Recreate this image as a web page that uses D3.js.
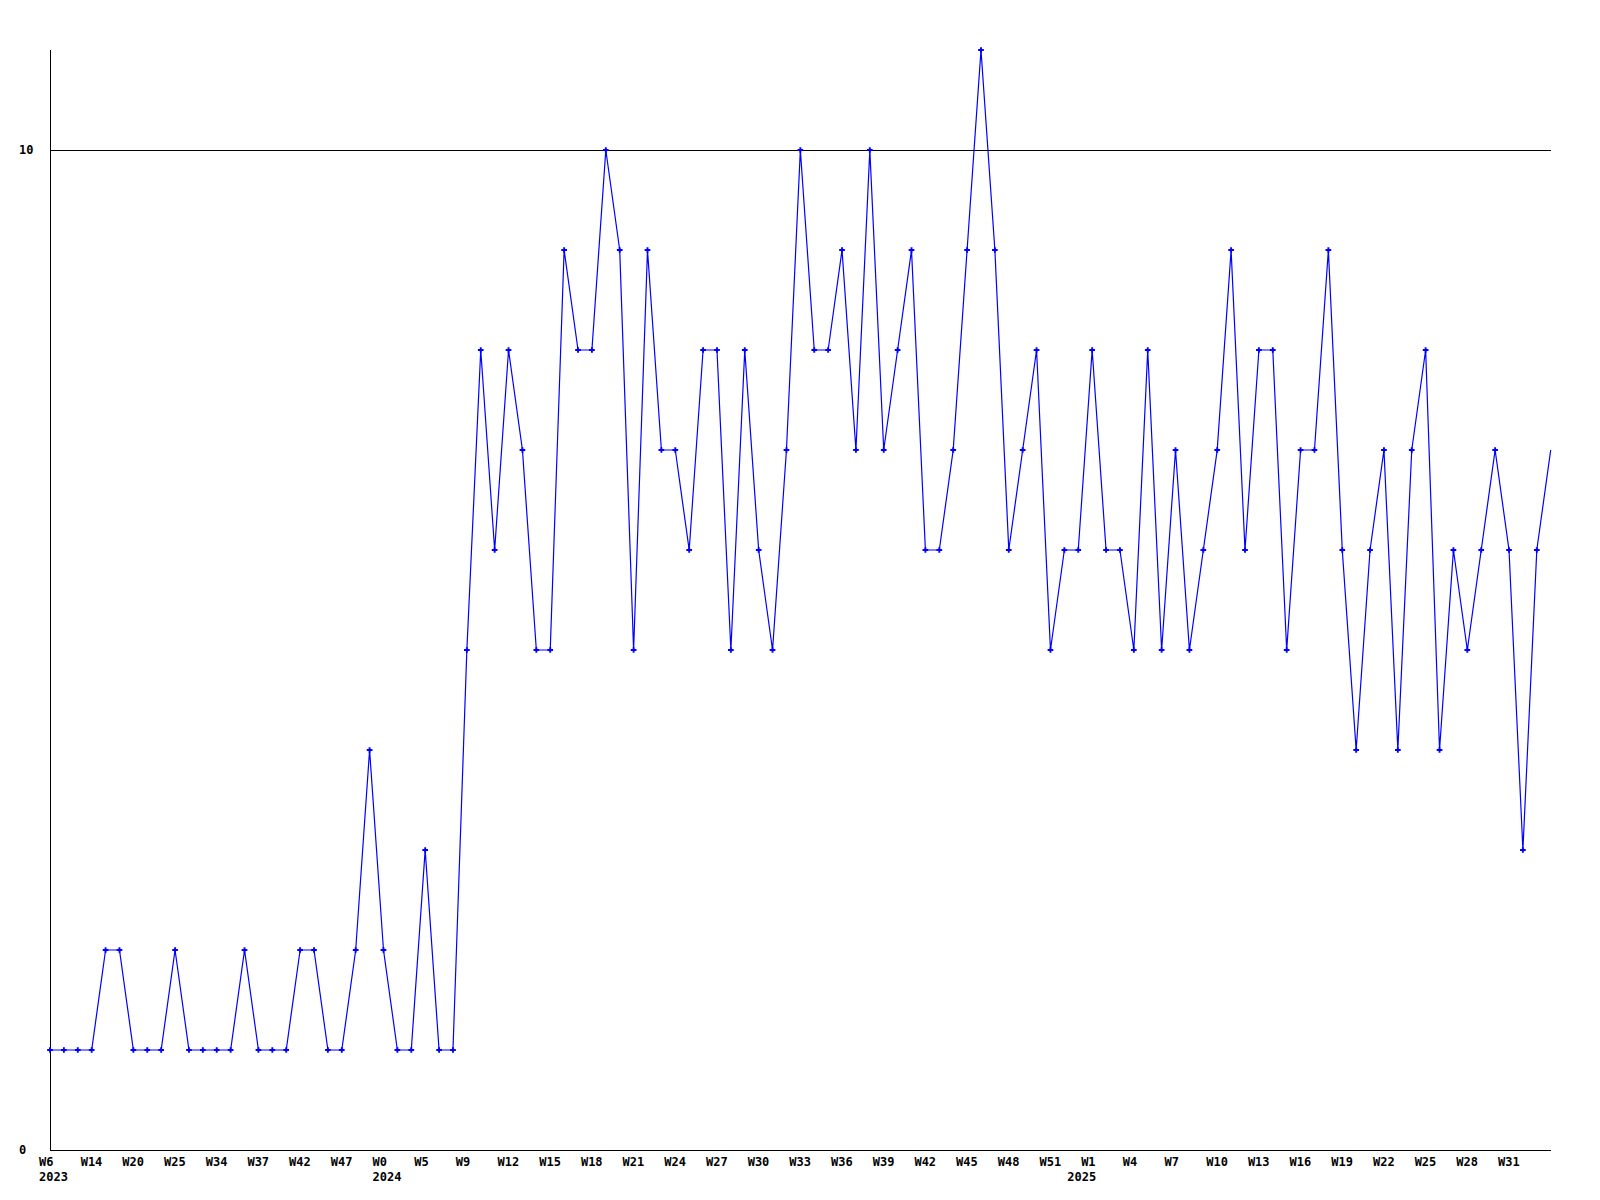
<!DOCTYPE html>
<html>
<head>
<meta charset="utf-8">
<script src="https://cdn.jsdelivr.net/npm/d3@7/dist/d3.min.js"></script>
<style>
  html, body { margin: 0; padding: 0; background: #fff; }
  svg { display: block; }
  text { font-family: "DejaVu Sans Mono", monospace; font-weight: bold; font-size: 12px; fill: #000; }
</style>
</head>
<body>
<svg id="chart" width="1600" height="1200"></svg>
<script>
// ---- data ----
const values = [
  1, 1, 1, 1, 2, 2, 1, 1, 1, 2,
  1, 1, 1, 1, 2, 1, 1, 1, 2, 2,
  1, 1, 2, 4, 2, 1, 1, 3, 1, 1,
  5, 8, 6, 8, 7, 5, 5, 9, 8, 8,
  10, 9, 5, 9, 7, 7, 6, 8, 8, 5,
  8, 6, 5, 7, 10, 8, 8, 9, 7, 10,
  7, 8, 9, 6, 6, 7, 9, 11, 9, 6,
  7, 8, 5, 6, 6, 8, 6, 6, 5, 8,
  5, 7, 5, 6, 7, 9, 6, 8, 8, 5,
  7, 7, 9, 6, 4, 6, 7, 4, 7, 8,
  4, 6, 5, 6, 7, 6, 3, 6, 7
];
const tickLabels = [
  "W6", "W14", "W20", "W25", "W34", "W37", "W42", "W47", "W0", "W5", "W9", "W12",
  "W15", "W18", "W21", "W24", "W27", "W30", "W33", "W36", "W39", "W42", "W45", "W48",
  "W51", "W1", "W4", "W7", "W10", "W13", "W16", "W19", "W22", "W25", "W28", "W31"
];
const tickEvery = 3;
const yearLabels = ["2023", "2024", "2025"];
const yearIndex = [0, 24, 74];
const yTickValues = [0, 10];

// ---- layout ----
const svg = d3.select("#chart");
const mLeft = 50, mRight = 1550.7, mTop = 50, mBottom = 1150;

const x = d3.scaleLinear().domain([0, values.length - 1]).range([mLeft, mRight]);
const y = d3.scaleLinear().domain([0, 11]).range([mBottom, mTop]);

// gridline at 10
svg.selectAll("line.grid").data(yTickValues.filter(v => v !== 0)).enter()
  .append("line").attr("class", "grid")
  .attr("x1", mLeft).attr("x2", mRight + 0.3)
  .attr("y1", d => Math.round(y(d)) + 0.5).attr("y2", d => Math.round(y(d)) + 0.5)
  .attr("stroke", "#000").attr("stroke-width", 1).attr("shape-rendering", "crispEdges");

// axes lines
svg.append("line").attr("x1", mLeft + 0.5).attr("x2", mLeft + 0.5)
  .attr("y1", mTop).attr("y2", mBottom + 1)
  .attr("stroke", "#000").attr("shape-rendering", "crispEdges");
svg.append("line").attr("x1", mLeft).attr("x2", mRight + 0.3)
  .attr("y1", mBottom + 0.5).attr("y2", mBottom + 0.5)
  .attr("stroke", "#000").attr("shape-rendering", "crispEdges");

// y labels
svg.selectAll("text.ylab").data(yTickValues).enter()
  .append("text").attr("class", "ylab")
  .attr("x", 19).attr("y", d => y(d) + 4)
  .text(d => d);

// x labels
const tickData = tickLabels.map((t, k) => ({ idx: k * tickEvery, label: t }));
svg.selectAll("text.xlab").data(tickData).enter()
  .append("text").attr("class", "xlab")
  .attr("x", d => x(d.idx) - 11).attr("y", 1166)
  .text(d => d.label);

svg.selectAll("text.year").data(yearLabels).enter()
  .append("text").attr("class", "year")
  .attr("x", (d, k) => x(yearIndex[k]) - 11).attr("y", 1181)
  .text(d => d);

// line
const line = d3.line().x((d, i) => x(i)).y(d => y(d));
svg.append("path").datum(values)
  .attr("d", line)
  .attr("fill", "none").attr("stroke", "#0000ff").attr("stroke-width", 1.2);

// markers
const sym = d3.symbol().type(d3.symbolCross).size(18);
svg.selectAll("path.mk").data(values.slice(0, values.length - 1)).enter()
  .append("path").attr("class", "mk")
  .attr("transform", (d, i) => `translate(${x(i)},${y(d)})`)
  .attr("d", sym)
  .attr("fill", "#0000ff");
</script>
</body>
</html>
